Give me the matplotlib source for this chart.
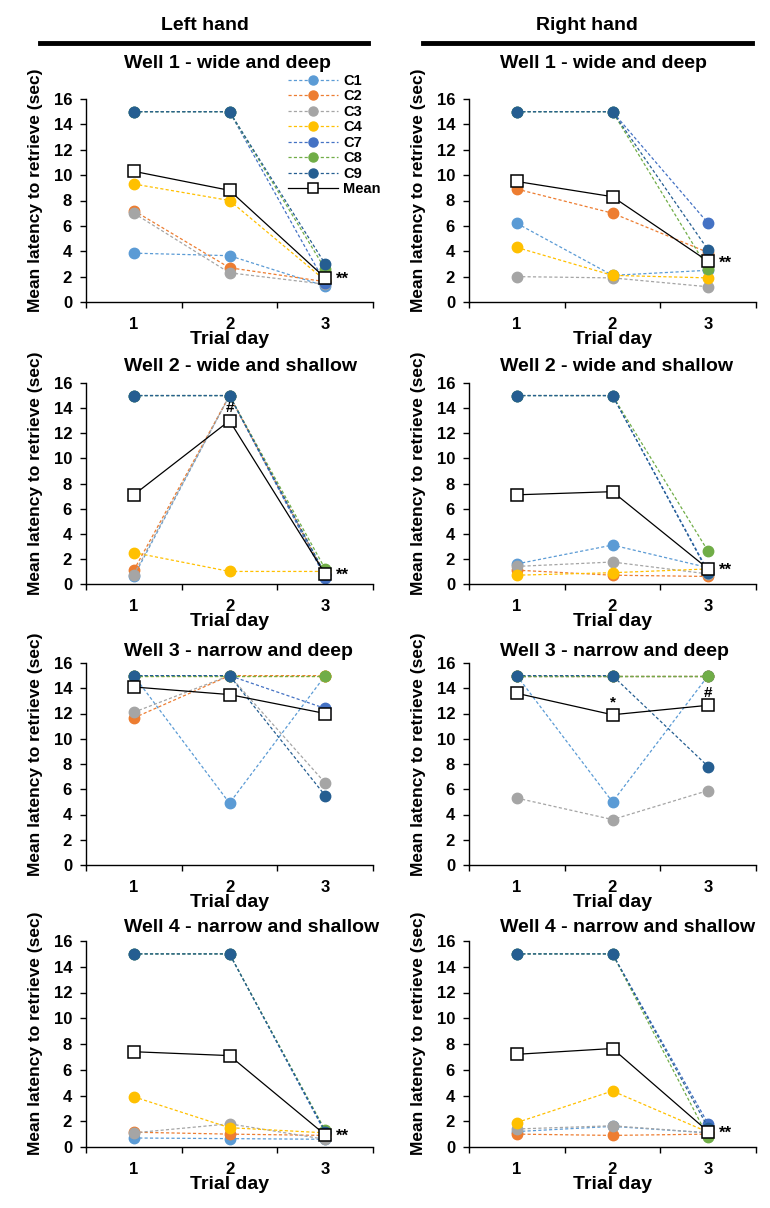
import matplotlib
matplotlib.use("Agg")
import matplotlib.pyplot as plt
from matplotlib.lines import Line2D

plt.rcParams['font.family'] = ['Liberation Sans', 'DejaVu Sans']
plt.rcParams['font.weight'] = 'bold'

days = [1, 2, 3]
mice = ['C1', 'C2', 'C3', 'C4', 'C7', 'C8', 'C9']
colors = ['#5B9BD5', '#ED7D31', '#A5A5A5', '#FFC000', '#4472C4', '#70AD47', '#255E91']

# latency per mouse (rows follow `mice`), columns = trial day 1..3
left_well1 = [[3.85, 3.65, 1.25], [7.2, 2.7, 1.6], [7.0, 2.3, 1.4], [9.3, 8.0, 1.7],
              [15, 15, 1.5], [15, 15, 2.6], [15, 15, 3.0]]
left_well1_mean = [10.3, 8.8, 1.9]
right_well1 = [[6.2, 2.1, 2.5], [8.9, 7.0, 3.9], [2.0, 1.9, 1.2], [4.3, 2.1, 1.9],
               [15, 15, 6.2], [15, 15, 2.6], [15, 15, 4.1]]
right_well1_mean = [9.5, 8.3, 3.2]

left_well2 = [[0.6, 15, 0.7], [1.1, 15, 0.7], [0.75, 15, 0.7], [2.5, 1.0, 1.0],
              [15, 15, 0.5], [15, 15, 1.2], [15, 15, 0.8]]
left_well2_mean = [7.1, 13.0, 0.8]
right_well2 = [[1.6, 3.1, 1.3], [1.1, 0.7, 0.6], [1.4, 1.75, 0.8], [0.7, 0.9, 1.2],
               [15, 15, 1.0], [15, 15, 2.6], [15, 15, 0.9]]
right_well2_mean = [7.1, 7.35, 1.2]

left_well3 = [[15, 4.9, 15], [11.65, 15, 15], [12.1, 15, 6.5], [15, 15, 15],
              [15, 15, 12.4], [15, 15, 15], [15, 15, 5.5]]
left_well3_mean = [14.1, 13.5, 12.0]
right_well3 = [[15, 5.0, 15], [15, 15, 15], [5.3, 3.6, 5.9], [15, 15, 15],
               [15, 15, 15], [15, 15, 15], [15, 15, 7.8]]
right_well3_mean = [13.6, 11.9, 12.65]

left_well4 = [[0.7, 0.65, 0.6], [1.15, 1.0, 0.9], [1.1, 1.8, 0.6], [3.9, 1.5, 1.1],
              [15, 15, 1.1], [15, 15, 1.3], [15, 15, 1.2]]
left_well4_mean = [7.4, 7.1, 0.95]
right_well4 = [[1.2, 1.6, 1.1], [1.0, 0.9, 1.0], [1.4, 1.65, 1.1], [1.9, 4.35, 1.15],
               [15, 15, 1.8], [15, 15, 0.75], [15, 15, 1.5]]
right_well4_mean = [7.2, 7.65, 1.2]

titles = ['Well 1 - wide and deep', 'Well 2 - wide and shallow',
          'Well 3 - narrow and deep', 'Well 4 - narrow and shallow']

# significance marks: (day, text, where)
left_marks = [[(3, '**', 'right')], [(2, '#', 'above'), (3, '**', 'right')], [], [(3, '**', 'right')]]
right_marks = [[(3, '**', 'right')], [(3, '**', 'right')],
               [(2, '*', 'above'), (3, '#', 'above')], [(3, '**', 'right')]]

left_data = [left_well1, left_well2, left_well3, left_well4]
left_means = [left_well1_mean, left_well2_mean, left_well3_mean, left_well4_mean]
right_data = [right_well1, right_well2, right_well3, right_well4]
right_means = [right_well1_mean, right_well2_mean, right_well3_mean, right_well4_mean]

W, H = 770, 1208
fig = plt.figure(figsize=(W / 100, H / 100), dpi=100)

rows_px = [(99, 302), (383, 584), (663, 865), (941, 1147)]
title_px = [64, 366, 651, 927]
cols_px = [86, 469]
title_x = [124, 500]
ax_w = 287
dash = (0, (2.5, 1.8))


def draw_panel(ax, data, mean, marks):
    for vals, c in zip(data, colors):
        ax.plot(days, vals, color=c, lw=0.9, ls=dash, marker='o',
                markersize=7.5, markeredgecolor=c, zorder=2)
    ax.plot(days, mean, color='black', lw=0.9, marker='s', markersize=8,
            markerfacecolor='white', markeredgecolor='black', markeredgewidth=1.1, zorder=3)
    for d, txt, where in marks:
        y = mean[d - 1]
        if where == 'right':
            ax.annotate(txt, (d, y), xytext=(8, -1), textcoords='offset points',
                        ha='left', va='center', fontsize=12, fontweight='bold')
        else:
            ax.annotate(txt, (d, y), xytext=(0, 4), textcoords='offset points',
                        ha='center', va='bottom', fontsize=11, fontweight='bold')
    ax.set_xlim(0.5, 3.5)
    ax.set_ylim(0, 16)
    ax.set_yticks(range(0, 17, 2))
    ax.set_xticks(days)
    ax.set_xticks([0.5, 1.5, 2.5, 3.5], minor=True)
    ax.tick_params(axis='x', which='major', length=0, labelsize=12, pad=11)
    ax.tick_params(axis='x', which='minor', length=4, width=1, direction='out')
    ax.tick_params(axis='y', length=4, width=1, labelsize=12, pad=6)
    for s in ['top', 'right']:
        ax.spines[s].set_visible(False)
    for s in ['left', 'bottom']:
        ax.spines[s].set_linewidth(1)
    ax.set_xlabel('Trial day', fontsize=14, fontweight='bold', labelpad=-1)
    ax.set_ylabel('Mean latency to retrieve (sec)', fontsize=12.5, fontweight='bold')
    ax.yaxis.set_label_coords(-0.150, 0.55)


for col, (datas, means, marks) in enumerate([(left_data, left_means, left_marks),
                                             (right_data, right_means, right_marks)]):
    x0 = cols_px[col]
    for r, (top, bot) in enumerate(rows_px):
        ax = fig.add_axes([x0 / W, 1 - bot / H, ax_w / W, (bot - top) / H])
        draw_panel(ax, datas[r], means[r], marks[r])
        fig.text(title_x[col] / W, 1 - title_px[r] / H, titles[r],
                 fontsize=14, fontweight='bold', ha='left', va='center')

# column headers
fig.text(205 / W, 1 - 25 / H, 'Left hand', fontsize=14, fontweight='bold', ha='center', va='center')
fig.text(587 / W, 1 - 25 / H, 'Right hand', fontsize=14, fontweight='bold', ha='center', va='center')
fig.add_artist(Line2D([40 / W, 368 / W], [1 - 43 / H, 1 - 43 / H], color='black', lw=3.5))
fig.add_artist(Line2D([423 / W, 752 / W], [1 - 43 / H, 1 - 43 / H], color='black', lw=3.5))

# legend
handles = [Line2D([], [], color=c, lw=0.9, ls=dash, marker='o', markersize=6.5,
                  markeredgecolor=c) for c in colors]
handles.append(Line2D([], [], color='black', lw=0.9, marker='s', markersize=7,
                      markerfacecolor='white', markeredgecolor='black', markeredgewidth=1.1))
fig.legend(handles, mice + ['Mean'], loc='upper left', bbox_to_anchor=(288 / W, 1 - 74 / H),
           frameon=False, labelspacing=0.1, handlelength=3.4,
           handletextpad=0.4, borderpad=0, borderaxespad=0,
           prop={'weight': 'bold', 'size': 10.5})

fig.savefig('out.png', dpi=100)
